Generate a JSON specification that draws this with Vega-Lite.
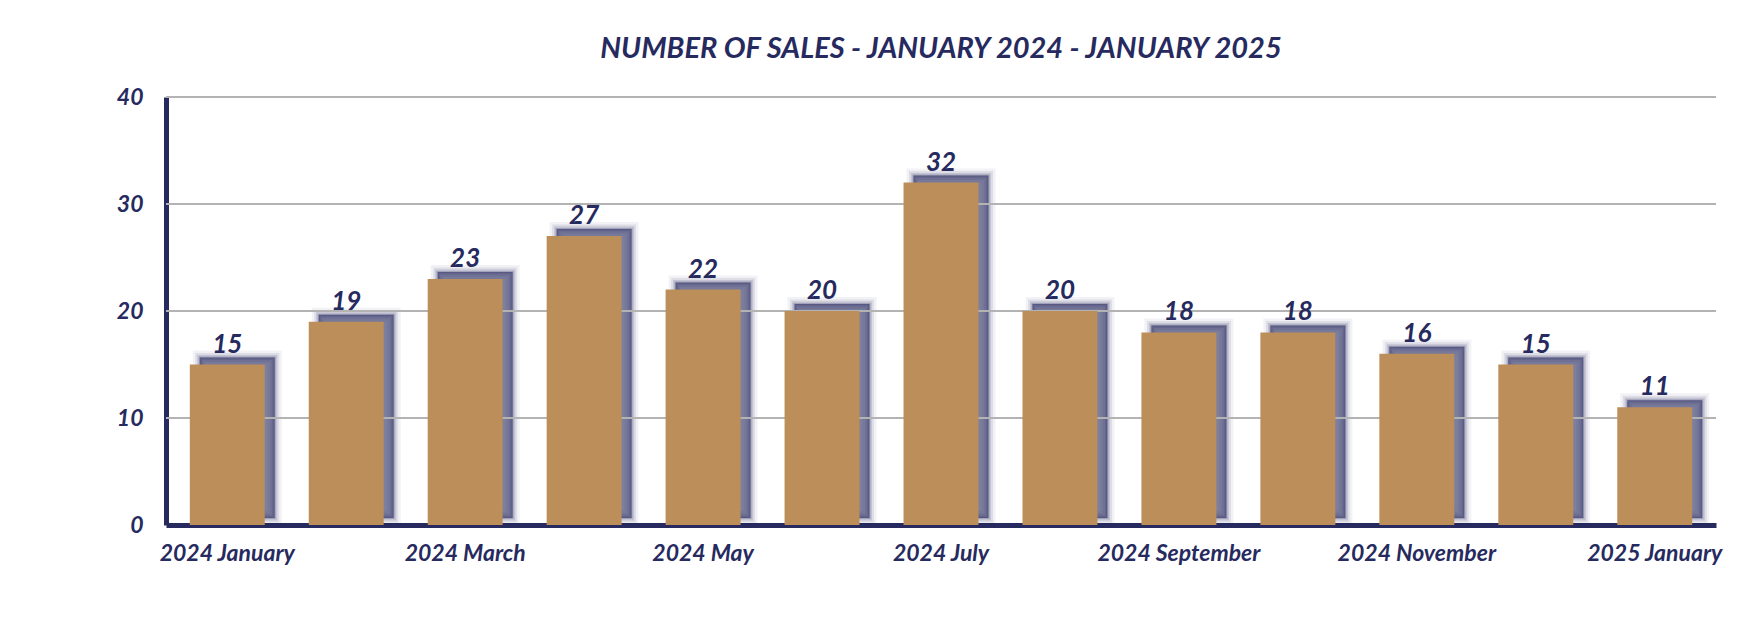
{
  "$schema": "https://vega.github.io/schema/vega-lite/v6.json",
  "autosize": "none",
  "width": 1550,
  "height": 428,
  "padding": {"left": 166, "top": 97, "right": 48, "bottom": 103},
  "background": "white",
  "title": {
    "text": "NUMBER OF SALES - JANUARY 2024 - JANUARY 2025",
    "font": "Lato",
    "fontSize": 29,
    "fontWeight": "bold",
    "fontStyle": "italic",
    "color": "#262a5e",
    "anchor": "middle",
    "offset": 22
  },
  "config": {
    "view": {"stroke": null},
    "axis": {
      "labelFont": "Lato",
      "labelFontWeight": "bold",
      "labelFontStyle": "italic",
      "labelColor": "#262a5e",
      "ticks": false,
      "grid": false,
      "title": null,
      "domainColor": "#262a5e",
      "domainWidth": 5
    }
  },
  "data": {
    "values": [
      {"month": "2024 January", "sales": 15},
      {"month": "2024 February", "sales": 19},
      {"month": "2024 March", "sales": 23},
      {"month": "2024 April", "sales": 27},
      {"month": "2024 May", "sales": 22},
      {"month": "2024 June", "sales": 20},
      {"month": "2024 July", "sales": 32},
      {"month": "2024 August", "sales": 20},
      {"month": "2024 September", "sales": 18},
      {"month": "2024 October", "sales": 18},
      {"month": "2024 November", "sales": 16},
      {"month": "2024 December", "sales": 15},
      {"month": "2025 January", "sales": 11}
    ]
  },
  "encoding": {
    "x": {
      "field": "month",
      "type": "nominal",
      "sort": null,
      "scale": {"paddingInner": 0.37, "paddingOuter": 0.2},
      "axis": {
        "values": ["2024 January", "2024 March", "2024 May", "2024 July", "2024 September", "2024 November", "2025 January"],
        "labelAngle": 0,
        "labelFontSize": 23,
        "labelPadding": 17
      }
    },
    "y": {
      "field": "sales",
      "type": "quantitative",
      "scale": {"domain": [0, 40]},
      "axis": {
        "values": [0, 10, 20, 30, 40],
        "labelFontSize": 23,
        "labelPadding": 23
      }
    }
  },
  "layer": [
    {
      "mark": {"type": "bar", "xOffset": 10, "yOffset": -7, "fill": "#262a5e", "fillOpacity": 0.6, "stroke": "#262a5e", "strokeWidth": 2, "strokeOpacity": 0.2}
    },
    {
      "mark": {"type": "bar", "xOffset": 10, "yOffset": -7, "fillOpacity": 0, "stroke": "#262a5e", "strokeWidth": 5, "strokeOpacity": 0.15}
    },
    {
      "mark": {"type": "bar", "xOffset": 10, "yOffset": -7, "fillOpacity": 0, "stroke": "#262a5e", "strokeWidth": 9, "strokeOpacity": 0.1}
    },
    {
      "mark": {"type": "bar", "xOffset": 10, "yOffset": -7, "fillOpacity": 0, "stroke": "#262a5e", "strokeWidth": 14, "strokeOpacity": 0.06}
    },
    {
      "data": {"values": [{"g": 10}, {"g": 20}, {"g": 30}, {"g": 40}]},
      "mark": {"type": "rule", "color": "#b3b3b3", "strokeWidth": 2},
      "encoding": {"y": {"field": "g", "type": "quantitative"}, "x": null}
    },
    {
      "mark": {"type": "bar", "color": "#bc8e5a"}
    },
    {
      "mark": {"type": "text", "baseline": "alphabetic", "dy": -12, "font": "Lato", "fontSize": 26, "fontWeight": "bold", "fontStyle": "italic", "color": "#262a5e"},
      "encoding": {"text": {"field": "sales", "type": "quantitative"}}
    }
  ]
}
